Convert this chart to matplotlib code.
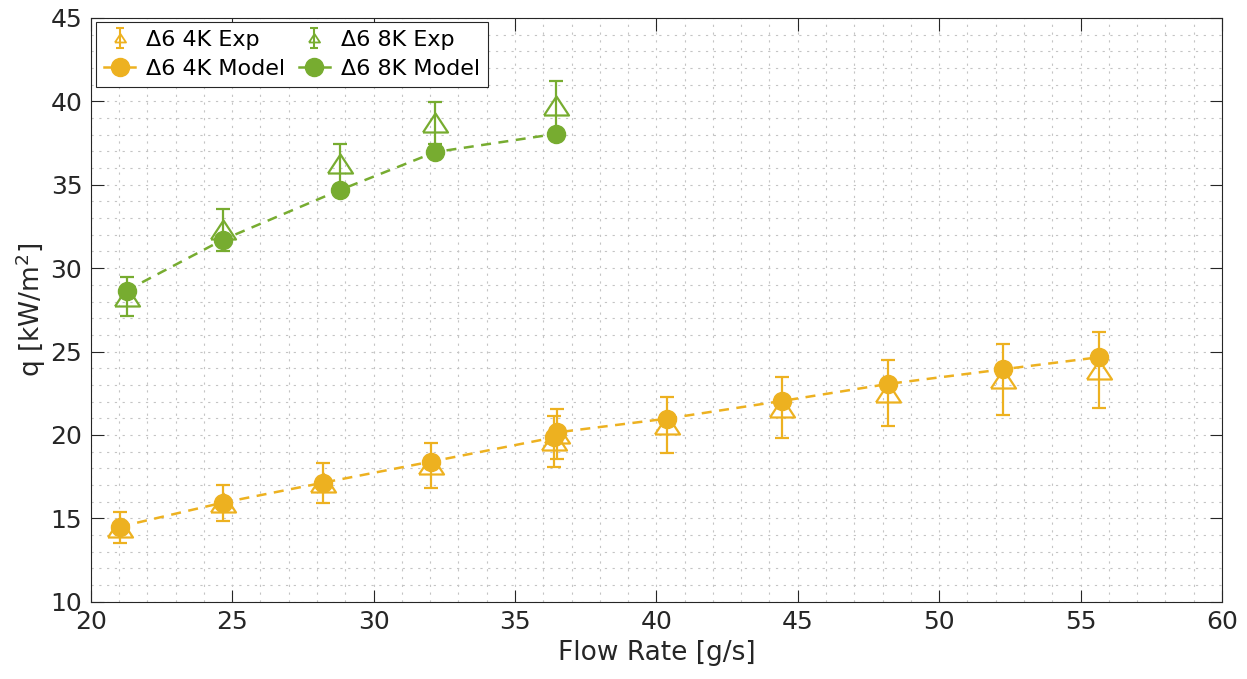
import numpy as np
import matplotlib
matplotlib.use("Agg")
import matplotlib.pyplot as plt
from matplotlib.ticker import MultipleLocator
from matplotlib.container import ErrorbarContainer
from matplotlib.legend_handler import HandlerErrorbar

# =========================
# Data
# =========================
flow_4k = [21.04, 24.67, 28.23, 32.03, 36.38, 36.48, 40.38, 44.45, 48.2, 52.27, 55.65]
q_4k_exp = [14.44, 15.93, 17.12, 18.17, 19.62, 20.05, 20.61, 21.64, 22.52, 23.33, 23.9]
err_4k_exp = [0.94, 1.07, 1.18, 1.33, 1.52, 1.5, 1.67, 1.82, 1.98, 2.13, 2.28]
q_4k_model = [14.5, 15.94, 17.14, 18.4, 19.85, 20.15, 20.98, 22.04, 23.06, 23.94, 24.66]

flow_8k = [21.27, 24.67, 28.82, 32.18, 36.45]
q_8k_exp = [28.3, 32.27, 36.22, 38.7, 39.75]
err_8k_exp = [1.16, 1.27, 1.23, 1.26, 1.45]
q_8k_model = [28.66, 31.7, 34.69, 36.96, 38.05]

labels = ["Δ6 4K Exp", "Δ6 4K Model", "Δ6 8K Exp", "Δ6 8K Model"]

orange = "#EDB120"
green = "#77AC30"

plt.rcParams["font.family"] = ["DejaVu Sans"]
plt.rcParams["mathtext.fontset"] = "dejavusans"

# wide MATLAB-like triangle
tri = [(-1, -0.72), (1, -0.72), (0, 0.8), (-1, -0.72)]

fig = plt.figure(figsize=(12.47, 6.79), dpi=100)
ax = fig.add_axes([0.0727, 0.1138, 0.9073, 0.8597])

# =========================
# Series
# =========================
for flow, q_exp, err, q_mod, col in [
    (flow_4k, q_4k_exp, err_4k_exp, q_4k_model, orange),
    (flow_8k, q_8k_exp, err_8k_exp, q_8k_model, green),
]:
    ax.errorbar(flow, q_exp, yerr=err, fmt="none", ecolor=col,
                elinewidth=1.6, capsize=5, capthick=1.6, zorder=3)
    ax.plot(flow, q_exp, linestyle="none", marker=tri, markersize=18,
            markerfacecolor="none", markeredgecolor=col,
            markeredgewidth=1.6, zorder=4)
    ax.plot(flow, q_mod, linestyle=(0, (4, 3)), color=col, linewidth=1.8,
            marker="o", markersize=13, markerfacecolor=col,
            markeredgecolor=col, zorder=5)

# legend proxies (smaller exp symbol like the original)
h = []
for col in [orange, green]:
    e = ax.errorbar([np.nan], [np.nan], yerr=[1], fmt="none", ecolor=col,
                    elinewidth=1.5, capsize=3, capthick=1.5)
    m, = ax.plot([np.nan], [np.nan], linestyle="none", marker=tri,
                 markersize=8, markerfacecolor="none", markeredgecolor=col,
                 markeredgewidth=1.3)
    l, = ax.plot([np.nan], [np.nan], linestyle="-", color=col, linewidth=1.8,
                 marker="o", markersize=13, markerfacecolor=col,
                 markeredgecolor=col)
    h += [(e, m), l]

leg = ax.legend(h, labels, ncol=2, loc="upper left",
                bbox_to_anchor=(0.005, 0.993), fontsize=16,
                frameon=True, fancybox=False, edgecolor="#262626",
                framealpha=1, handlelength=1.4, handletextpad=0.5,
                columnspacing=0.6, borderpad=0.35, labelspacing=0.4,
                borderaxespad=0,
                handler_map={ErrorbarContainer: HandlerErrorbar(yerr_size=0.45)})
leg.get_frame().set_linewidth(0.8)

# =========================
# Axes styling
# =========================
ax.set_xlim(20, 60)
ax.set_ylim(10, 45)
ax.xaxis.set_major_locator(MultipleLocator(5))
ax.yaxis.set_major_locator(MultipleLocator(5))
ax.xaxis.set_minor_locator(MultipleLocator(1))
ax.yaxis.set_minor_locator(MultipleLocator(1))
ax.grid(which="both", linestyle=(0, (2, 5)), color="#c4c4c4", linewidth=0.8)
ax.set_axisbelow(True)

ax.tick_params(which="major", direction="in", length=9, width=0.8,
               colors="#262626", labelsize=18, top=True, right=True, pad=6)
ax.tick_params(which="minor", length=0)
for s in ax.spines.values():
    s.set_color("#262626")
    s.set_linewidth(0.8)

ax.set_xlabel("Flow Rate [g/s]", fontsize=19, color="#262626", labelpad=4)
ax.set_ylabel("q [kW/m$^2$]", fontsize=19, color="#262626", labelpad=2)

fig.savefig("out.png", dpi=100)
